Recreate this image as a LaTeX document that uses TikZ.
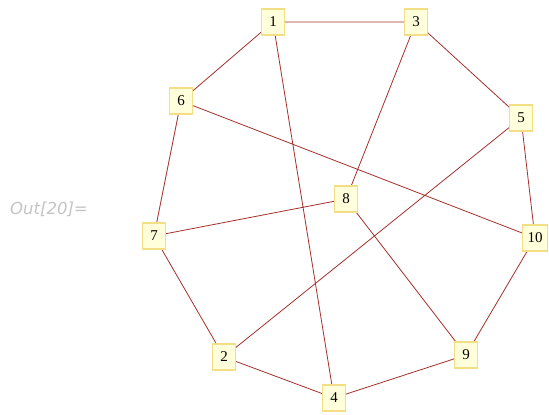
\documentclass[tikz,border=0pt]{standalone}
\usepackage{fontspec}
\setmainfont{Liberation Serif}
\newfontfamily\outfont{DejaVu Sans}
\usepackage{xcolor}
\usepackage{tikz}
\definecolor{edgex}{HTML}{A3302B}
\definecolor{boxfill}{HTML}{FFFFDC}
\definecolor{boxline}{HTML}{F3DE85}
\definecolor{outgray}{HTML}{C4C4C4}
\tikzset{
  vx/.style={draw=boxline,line width=1.4pt,fill=boxfill,minimum width=23pt,minimum height=26pt,inner sep=5pt,font=\fontsize{15}{15}\selectfont},
  ed/.style={edgex,line width=0.8pt}
}
\begin{document}
\begin{tikzpicture}[x=1pt,y=-1pt]
\useasboundingbox (0,0) rectangle (549,415);
\node[outgray,font=\outfont\itshape\fontsize{16.5}{16.5}\selectfont,anchor=west,inner sep=0pt] (out) at (10,209) {Out[20]=};
% edges first, boxes on top
\coordinate (p1) at (273,22);
\coordinate (p3) at (416,22);
\coordinate (p6) at (181,101);
\coordinate (p5) at (521,118);
\coordinate (p8) at (346,199);
\coordinate (p7) at (154,236);
\coordinate (p10) at (535,238);
\coordinate (p2) at (224,357);
\coordinate (p9) at (466,355);
\coordinate (p4) at (334,398);
\draw[ed] (p1)--(p3) (p1)--(p6) (p1)--(p4) (p3)--(p5) (p3)--(p8)
  (p6)--(p7) (p6)--(p10) (p5)--(p10) (p5)--(p2) (p7)--(p8)
  (p7)--(p2) (p8)--(p9) (p10)--(p9) (p2)--(p4) (p4)--(p9);
\foreach \i in {1,...,10}
  \node[vx] (n\i) at (p\i) {\i};
\end{tikzpicture}
\end{document}
